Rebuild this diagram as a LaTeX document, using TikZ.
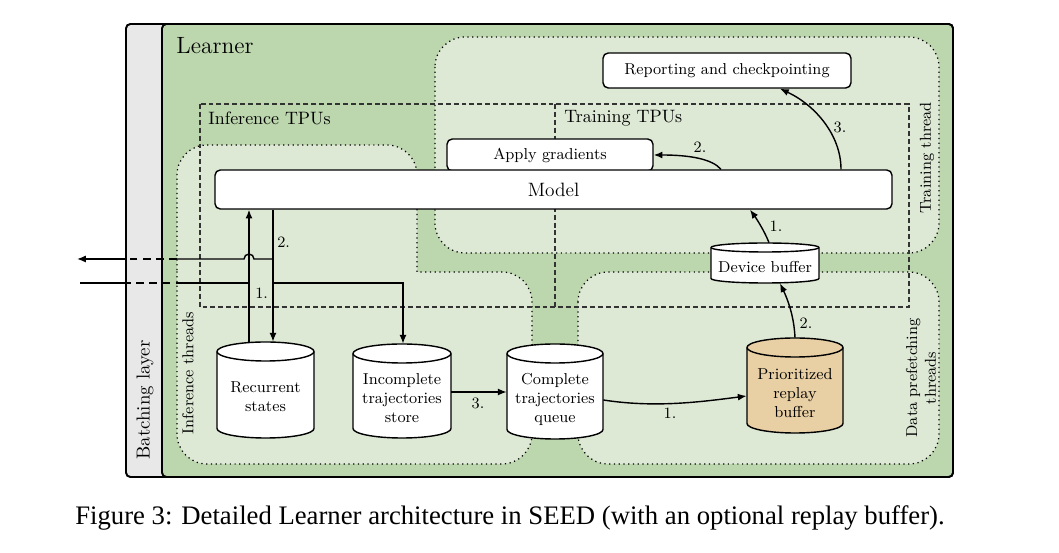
\documentclass[tikz,border=0pt]{standalone}
\usepackage{fontspec}
\newfontfamily\capfont{Liberation Serif}
\usetikzlibrary{arrows.meta,fit}
\definecolor{learnergreen}{HTML}{BCD6AD}
\definecolor{palegreen}{HTML}{DDE8D5}
\definecolor{batchgray}{HTML}{E8E8E8}
\definecolor{replaytan}{HTML}{E8CFA4}
\newcommand\drawcyl[7]{% name, cx, top, bottom, half width, ellipse ry, fill
  \path[draw=black, line width=0.8pt, fill=#7] (#2-#5,#3+#6) -- (#2-#5,#4-#6)
     arc[start angle=180,end angle=0,x radius=#5,y radius=#6] -- (#2+#5,#3+#6)
     arc[start angle=0,end angle=-180,x radius=#5,y radius=#6] -- cycle;
  \draw[line width=0.8pt] (#2-#5,#3+#6) arc[start angle=180,end angle=0,x radius=#5,y radius=#6];
  \node[fit={(#2-#5,#3) (#2+#5,#4)}, inner sep=0pt] (#1) {};
}
\begin{document}
\begin{tikzpicture}[x=0.02cm,y=-0.02cm,
  box/.style={draw, line width=0.8pt, fill=white, rounded corners=3pt, inner sep=0pt, font=\fontsize{9}{10.8}\selectfont},
  region/.style={draw, dotted, line width=0.7pt, fill=palegreen, rounded corners=0.6cm},
  tpu/.style={draw=black!80, dash pattern=on 2.8pt off 1.7pt, line width=0.6pt},
  conn/.style={line width=0.8pt},
  arr/.style={conn, -{Latex[length=5pt,width=4pt]}},
  lbl/.style={font=\fontsize{9}{10.8}\selectfont, inner sep=0pt},
  cyltext/.style={font=\fontsize{9}{10.8}\selectfont, align=center, inner sep=0pt},
  rlabel/.style={font=\fontsize{9}{10.8}\selectfont, inner sep=0pt, align=center, rotate=90},
  tpulabel/.style={font=\fontsize{10.2}{12}\selectfont, inner sep=0pt, anchor=base west}]
\useasboundingbox (0,0) rectangle (1059,553);

% outer boxes
\draw[line width=1.1pt, fill=batchgray, rounded corners=2.5pt] (126,24) rectangle (953,477);
\draw[line width=1.1pt, fill=learnergreen, rounded corners=2.5pt] (162,24) rectangle (953,477);
\node[font=\fontsize{13.4}{16}\selectfont, inner sep=0pt, anchor=base west] (learner) at (176,54) {Learner};
\node[font=\fontsize{10.7}{13}\selectfont, inner sep=0pt, rotate=90] (batch) at (145,400) {Batching layer};

% thread regions
\path[region] (435,37) rectangle (939,253);
\path[region] (578,272) rectangle (939,464);
\path[region] (177,300) -- (177,145) -- (417,145) [sharp corners] -- (417,272) [rounded corners=0.6cm] -- (532,272) -- (532,464) -- (177,464) -- cycle;
\node[rlabel] (trth) at (927,158) {Training thread};
\node[rlabel] (dpth) at (921,378) {Data prefetching\\threads};
\node[rlabel] (inth) at (188,373) {Inference threads};

% TPU dashed boxes
\draw[tpu] (200,104) rectangle (909,307);
\draw[tpu] (555,104) -- (555,307);
\node[tpulabel] (inftpu) at (208,125) {Inference TPUs};
\node[tpulabel] (trtpu) at (564,123) {Training TPUs};

% boxes
\node[box, minimum width=206*0.02cm, minimum height=32*0.02cm] (apply) at (550,155) {Apply gradients};
\node[box, minimum width=677*0.02cm, minimum height=39*0.02cm, font=\fontsize{11}{13}\selectfont] (model) at (553.5,189.5) {Model};
\node[box, minimum width=248*0.02cm, minimum height=35*0.02cm] (report) at (727,70.5) {Reporting and checkpointing};

% cylinders
\drawcyl{rs}{265.5}{342}{438}{48.5}{9.5}{white}
\node[cyltext] (rst) at (265.5,397) {Recurrent\\states};
\drawcyl{its}{402}{344}{438}{49}{9.5}{white}
\node[cyltext] (itst) at (402,398) {Incomplete\\trajectories\\store};
\drawcyl{ctq}{555}{344}{439}{48}{9.5}{white}
\node[cyltext] (ctqt) at (555,399) {Complete\\trajectories\\queue};
\drawcyl{prb}{795}{338}{433}{48}{9.5}{replaytan}
\node[cyltext] (prbt) at (795,393) {Prioritized\\replay\\buffer};
\drawcyl{dev}{765}{243}{283}{54}{4.5}{white}
\node[cyltext] (devt) at (765,267) {Device buffer};

% helper coordinates
\coordinate (xa) at (249,0);
\coordinate (xb) at (273,0);
\coordinate (xc) at (403,0);
\coordinate (inL) at (80,283);
\coordinate (inD1) at (123,283);
\coordinate (inD2) at (178,283);
\coordinate (outL) at (77,259);
\coordinate (outD1) at (125,259);
\coordinate (outD2) at (177,259);
\coordinate (jmp) at (254,259);

% inference connectors
\draw[conn] (inL) -- (inD1);
\draw[conn, dash pattern=on 4.5pt off 3pt] (inD1) -- (inD2);
\draw[conn] (inD2) -- (inD2 -| xa);
\draw[arr] (rs.north -| xa) -- (model.south -| xa);
\draw[arr] (model.south -| xb) -- (rs.north -| xb);
\draw[conn] (jmp -| xb) -- (jmp) arc[start angle=0,end angle=-180,radius=5] -- (outD2);
\draw[conn, dash pattern=on 4.5pt off 3pt] (outD2) -- (outD1);
\draw[arr] (outD1) -- (outL);
\draw[arr] (inL -| xb) -- (inL -| xc) -- (its.north -| xc);
\node[lbl, anchor=west] (l1a) at (255,293) {1.};
\node[lbl, anchor=west] (l2a) at (277,242) {2.};

\draw[arr] (its.east |- 0,392) -- (ctq.west |- 0,392);
\node[lbl] (l3a) at (478,403) {3.};

% training connectors
\draw[arr] (ctq.east |- 0,400) .. controls (655,408) and (700,402) .. (prb.west |- 0,396);
\node[lbl] (l1b) at (670,413) {1.};
\draw[arr] (prb.north) .. controls (794,315) and (787,298) .. (dev.south -| 780,0);
\node[lbl] (l2b) at (806,323) {2.};
\draw[arr] (dev.north -| 769,0) .. controls (764,230) and (756,218) .. (model.south -| 750,0);
\node[lbl] (l1c) at (776,226) {1.};
\draw[arr] (model.north -| 721,0) .. controls (712,159) and (690,155) .. (apply.east);
\node[lbl] (l2c) at (700,147) {2.};
\draw[arr] (model.north -| 841,0) .. controls (841,135) and (815,105) .. (report.south -| 780,0);
\node[lbl] (l3c) at (840,127) {3.};

% caption
\node[font=\capfont\fontsize{15.2}{18}\selectfont, inner sep=0pt] (cap) at (510,518) {Figure 3: Detailed Learner architecture in SEED (with an optional replay buffer).};
\end{tikzpicture}
\end{document}
